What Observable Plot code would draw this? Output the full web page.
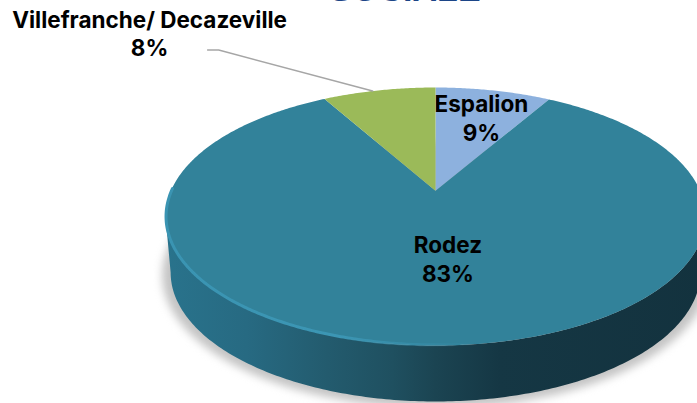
<!DOCTYPE html>
<html><head><meta charset="utf-8">
<style>html,body{margin:0;padding:0;background:#fff;overflow:hidden}svg{display:block}</style>
<script src="https://cdn.jsdelivr.net/npm/d3@7"></script>
<script src="https://cdn.jsdelivr.net/npm/@observablehq/plot@0.6"></script>
</head><body><script>
// Data
const categories = ["Espalion", "Rodez", "Villefranche/ Decazeville"];
const shares = [8.6, 83, 8.4];
const colors = ["#8db1de", "#32829a", "#9bba59"];
const titleText = "SOCIALE";

// Layout (unit space of the tilted pie: top ellipse is the unit circle)
const apexV = 0.2, baseV = -0.434, baseU = 0.981;
const labelAt = [[0.17, 0.767], [0.046, -0.325], [-1.059, 1.422]];
const font = "Inter, 'Liberation Sans', Arial, sans-serif";

const rim = (t) => {
  const du = Math.sin(t), dv = Math.cos(t) * 1.01;
  const a = du * du + dv * dv, b = 2 * apexV * dv, c = apexV * apexV - 1;
  const s = (-b + Math.sqrt(b * b - 4 * a * c)) / (2 * a);
  return {u: s * du, v: apexV + s * dv};
};
const total = d3.sum(shares);
let acc = 0;
const slices = categories.map((name, i) => {
  const a0 = (acc / total) * 2 * Math.PI;
  acc += shares[i];
  const a1 = (acc / total) * 2 * Math.PI;
  const pts = [{u: 0, v: apexV}];
  const n = Math.ceil((a1 - a0) / 0.01);
  for (let k = 0; k <= n; k++) pts.push(rim(a0 + ((a1 - a0) * k) / n));
  return {name, share: shares[i], a0, a1, pts};
});
const slicePoints = slices.flatMap((s) => s.pts.map((p) => ({...p, name: s.name})));

const ell = (from, to, ru, rv, cv) =>
  d3.range(0, 201).map((k) => {
    const t = from + ((to - from) * k) / 200;
    return {u: ru * Math.cos(t), v: cv + rv * Math.sin(t)};
  });
const wall = [...ell(Math.PI, 2 * Math.PI, 1, 1, 0), ...ell(2 * Math.PI, Math.PI, baseU, 1, baseV)];
const shadow = ell(0, 2 * Math.PI, 1.012, 1.03, baseV - 0.02);
const rimLight = ell(Math.PI * 0.93, Math.PI * 1.55, 0.998, 0.995, 0);

const leaderEnd = rim(slices[2].a0 + 0.44 * (slices[2].a1 - slices[2].a0));
const leader = [
  {u: labelAt[2][0] + 0.215, v: labelAt[2][1] - 0.132},
  {u: labelAt[2][0] + 0.256, v: labelAt[2][1] - 0.132},
  {u: leaderEnd.u, v: leaderEnd.v}
];

const defs = () => {
  const d = d3.create("svg:defs");
  const w = d.append("linearGradient").attr("id", "wallGrad");
  [[0, "#29738c"], [0.15, "#276a82"], [0.3, "#235b6e"], [0.42, "#1f5060"], [0.5, "#1b4452"], [0.62, "#153744"], [1, "#13323e"]]
    .forEach(([o, c]) => w.append("stop").attr("offset", o).attr("stop-color", c));
  const r = d.append("linearGradient").attr("id", "rimGrad");
  [[0, "#3a94b2", 1], [0.55, "#3c96b4", 1], [1, "#3c96b4", 0]]
    .forEach(([o, c, a]) => r.append("stop").attr("offset", o).attr("stop-color", c).attr("stop-opacity", a));
  return d.node();
};

const textStyle = {fontFamily: font, fontWeight: "bold", fontSize: 22.5, fill: "#000"};
const labelLines = slices.map((s, i) => ({
  u: labelAt[i][0], v: labelAt[i][1], text: `${s.name}\n${Math.round(s.share)}%`
}));

const chart = Plot.plot({
  width: 697, height: 403,
  margin: 0,
  style: {background: "#fff"},
  x: {domain: [-1, 1], range: [165, 705], axis: null},
  y: {domain: [-1, 1], range: [345, 87], axis: null},
  color: {domain: categories, range: colors},
  marks: [
    defs,
    Plot.line(shadow, {x: "u", y: "v", fill: "#c4c4c4", stroke: "none", imageFilter: "blur(4px)"}),
    Plot.line(wall, {x: "u", y: "v", fill: "url(#wallGrad)", stroke: "none"}),
    Plot.line(slicePoints, {x: "u", y: "v", fill: "name", stroke: "none"}),
    Plot.line(rimLight, {x: "u", y: "v", stroke: "url(#rimGrad)", strokeWidth: 3, imageFilter: "blur(0.7px)"}),
    Plot.line(leader, {x: "u", y: "v", stroke: "#a6a6a6", strokeWidth: 1.5}),
    Plot.text(labelLines, {x: "u", y: "v", text: "text", lineHeight: 1.27, ...textStyle}),
    Plot.text([titleText], {frameAnchor: "top", lineAnchor: "bottom", dx: 56, dy: 0, fontFamily: "'Liberation Sans', Arial, sans-serif", fontWeight: "bold", fontSize: 34, fill: "#1c4587"})
  ]
});
document.body.append(chart);
</script></body></html>
